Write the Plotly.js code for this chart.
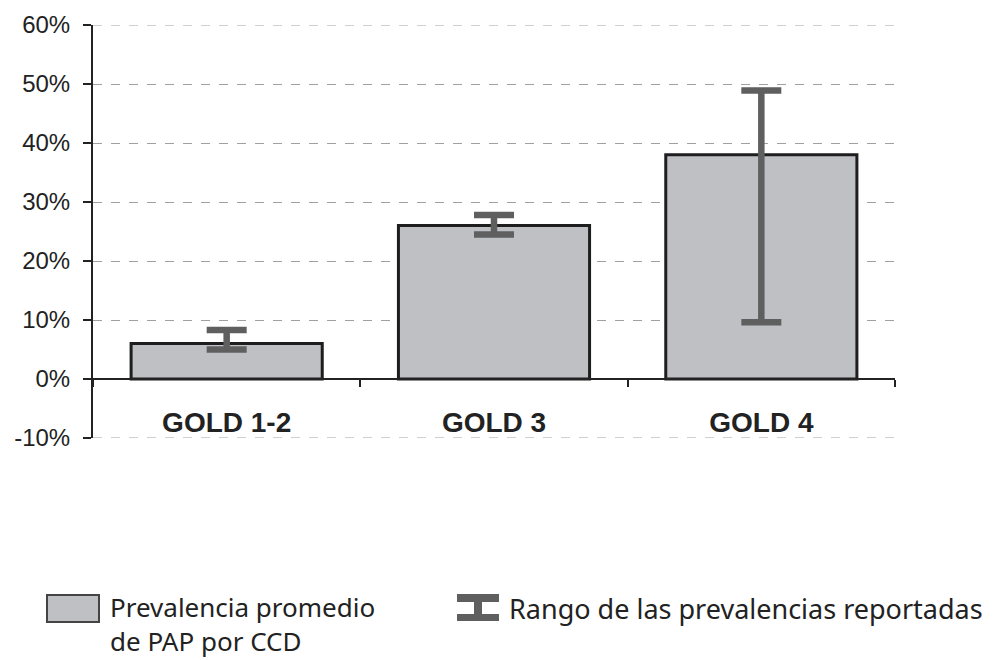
<!DOCTYPE html>
<html>
<head>
<meta charset="utf-8">
<script src="https://cdn.plot.ly/plotly-3.0.1.min.js"></script>
<style>html,body{margin:0;padding:0;background:#fff;}#chart{width:1006px;height:660px;}</style>
</head>
<body>
<div id="chart"></div>
<script>
const categories = ['GOLD 1-2', 'GOLD 3', 'GOLD 4'];
const meanPrevalence = [6, 26, 38];
const rangeLow = [5, 24.5, 9.6];
const rangeHigh = [8.3, 27.8, 48.9];
const yTicks = [-10, 0, 10, 20, 30, 40, 50, 60];
const legendBarLabel = 'Prevalencia promedio<br>de PAP por CCD';
const legendRangeLabel = 'Rango de las prevalencias reportadas';

const W = 1006, H = 660;
const L = 93, R = 895, T = 25, B = 438;
const px = x => (x - L) / (R - L);
const py = y => (B - y) / (B - T);

const trace = {
  type: 'bar',
  x: categories,
  y: meanPrevalence,
  marker: {color: '#bfc0c4', line: {color: '#1e1e1e', width: 3}},
  error_y: {
    type: 'data', symmetric: false,
    array: meanPrevalence.map((v, i) => rangeHigh[i] - v),
    arrayminus: meanPrevalence.map((v, i) => v - rangeLow[i]),
    color: '#5f5f5f', thickness: 6.5, width: 20
  },
  hoverinfo: 'x+y',
  showlegend: false
};

const grey = '#5f5f5f';
const edgeGrid = [yTicks[0], yTicks[yTicks.length - 1]].map(v => ({
  type: 'line', xref: 'paper', yref: 'y', x0: 0, x1: 1, y0: v, y1: v,
  line: {color: '#a0a0a0', width: 1, dash: 'dash'}, layer: 'below'
}));
const shapes = edgeGrid.concat([
  // legend bar swatch
  {type: 'rect', xref: 'paper', yref: 'paper', x0: px(47), x1: px(99), y0: py(595), y1: py(622),
   fillcolor: '#bfc0c4', line: {color: '#444', width: 2}},
  // legend range icon
  {type: 'rect', xref: 'paper', yref: 'paper', x0: px(457), x1: px(499), y0: py(594), y1: py(602),
   fillcolor: grey, line: {width: 0}},
  {type: 'rect', xref: 'paper', yref: 'paper', x0: px(457), x1: px(499), y0: py(614), y1: py(621),
   fillcolor: grey, line: {width: 0}},
  {type: 'rect', xref: 'paper', yref: 'paper', x0: px(474), x1: px(482), y0: py(600), y1: py(616),
   fillcolor: grey, line: {width: 0}}
]);

const legFont = {family: 'Noto Sans, sans-serif', size: 26, color: '#222'};
const legBase = {xref: 'paper', yref: 'paper', xanchor: 'left', yanchor: 'middle',
  showarrow: false, align: 'left', valign: 'middle', font: legFont, borderpad: 0};
const annotations = [
  Object.assign({}, legBase, {x: px(109), y: py(624), text: legendBarLabel}),
  Object.assign({}, legBase, {x: px(508), y: py(608), text: legendRangeLabel,
    font: Object.assign({}, legFont, {size: 27})})
];

const layout = {
  width: W, height: H,
  margin: {l: L, r: W - R, t: T, b: H - B, pad: 0},
  paper_bgcolor: '#fff', plot_bgcolor: '#fff',
  bargap: 0.285,
  font: {family: 'Liberation Sans, Arial, sans-serif', color: '#222'},
  xaxis: {
    type: 'category',
    anchor: 'free', position: 1 / 7,
    showline: true, linecolor: '#222', linewidth: 2,
    ticks: 'outside', tickson: 'boundaries', ticklen: 7, tickwidth: 2, tickcolor: '#222',
    showgrid: false, zeroline: false,
    tickfont: {family: 'Liberation Sans, Arial, sans-serif', size: 28, color: '#222', weight: 'bold'},
    ticklabelstandoff: 18,
    fixedrange: true
  },
  yaxis: {
    range: [-10, 60],
    tickvals: yTicks,
    ticktext: yTicks.map(v => v + '%'),
    showline: true, linecolor: '#222', linewidth: 2,
    ticks: 'outside', ticklen: 8, tickwidth: 2, tickcolor: '#222',
    showgrid: true, gridcolor: '#a0a0a0', gridwidth: 1, griddash: 'dash',
    zeroline: false,
    tickfont: {family: 'Liberation Sans, Arial, sans-serif', size: 24, color: '#222'},
    ticklabelstandoff: 8,
    fixedrange: true
  },
  shapes: shapes,
  annotations: annotations
};

Plotly.newPlot('chart', [trace], layout, {displayModeBar: false, staticPlot: true});
</script>
</body>
</html>
